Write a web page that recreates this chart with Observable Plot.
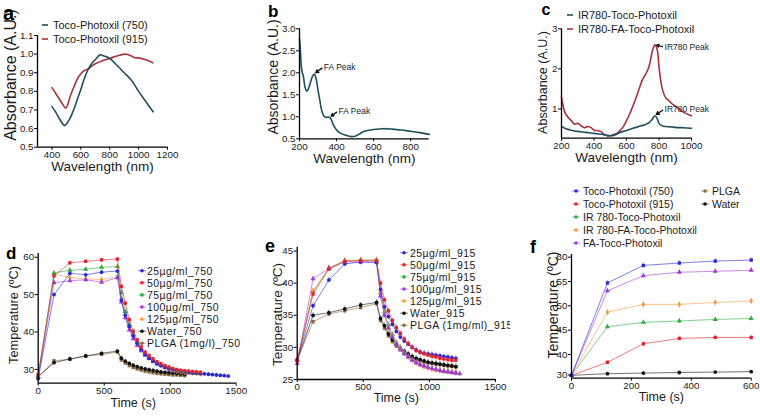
<!DOCTYPE html>
<html><head><meta charset="utf-8">
<script src="https://cdn.jsdelivr.net/npm/d3@7"></script>
<script src="https://cdn.jsdelivr.net/npm/@observablehq/plot@0.6"></script>
<style>
html,body{margin:0;padding:0;background:#fff;}
#root{position:relative;width:760px;height:416px;overflow:hidden;background:#fff;}
#root svg{position:absolute;left:0;top:0;}
</style></head><body><div id="root"></div>
<script>
// ---------- DATA ----------
// Panel a
const wlA750 = [400,425,450,475,487,500,525,550,575,600,625,652,675,700,733,760,800,850,900,950,1000,1050,1100];
const absA750 = [0.718,0.69,0.655,0.625,0.616,0.625,0.655,0.70,0.755,0.81,0.87,0.92,0.95,0.97,0.996,0.99,0.977,0.94,0.90,0.86,0.80,0.745,0.69];
const wlA915 = [400,425,450,475,495,510,525,550,575,600,625,652,675,700,750,800,850,900,925,950,975,1000,1050,1100];
const absA915 = [0.82,0.79,0.76,0.73,0.71,0.73,0.77,0.82,0.865,0.895,0.912,0.92,0.935,0.948,0.965,0.977,0.99,1.0,0.998,0.99,0.98,0.98,0.97,0.953];
const legendA = ["Toco-Photoxil (750)", "Toco-Photoxil (915)"];
// Panel b
const wlB = [200,205,210,215,220,230,240,250,260,270,280,290,300,310,320,330,340,350,360,370,380,400,420,450,480,500,520,550,600,650,700,750,800,850,900];
const absB = [2.77,2.5,2.13,2.0,1.94,1.67,1.58,1.66,1.79,1.92,1.97,1.86,1.6,1.37,1.14,1.03,0.99,0.99,0.99,0.95,0.84,0.7,0.63,0.58,0.55,0.56,0.6,0.67,0.71,0.73,0.72,0.7,0.67,0.64,0.6];
const annB = [{x:283, y:1.99, tx:326, ty:2.12, label:"FA Peak"}, {x:366, y:1.0, tx:405, ty:1.12, label:"FA Peak"}];
// Panel c
const wlC = [200,210,220,240,260,280,300,320,340,360,380,400,420,440,460,480,500,520,540,560,580,600,620,640,660,680,700,720,740,760,775,790,800,820,840,860,880,900,950,1000];
const absCfa = [1.29,1.08,0.92,0.79,0.71,0.62,0.64,0.58,0.53,0.56,0.54,0.47,0.46,0.44,0.37,0.33,0.33,0.36,0.39,0.46,0.56,0.71,0.88,1.08,1.29,1.53,1.75,1.88,2.08,2.46,2.6,2.46,2.04,1.5,1.29,1.21,1.13,1.07,0.92,0.83];
const absCtoco = [0.56,0.54,0.52,0.49,0.47,0.45,0.44,0.43,0.42,0.41,0.40,0.39,0.38,0.37,0.36,0.34,0.33,0.34,0.37,0.41,0.44,0.46,0.49,0.52,0.54,0.57,0.59,0.62,0.66,0.75,0.83,0.75,0.64,0.58,0.56,0.555,0.55,0.54,0.53,0.52];
const legendC = ["IR780-Toco-Photoxil", "IR780-FA-Toco-Photoxil"];
const annC = [{x:778, y:2.6, tx:828, ty:2.55, label:"IR780 Peak"}, {x:778, y:0.85, tx:828, ty:0.98, label:"IR780 Peak"}];
// Panel d
const tD = [0,120,240,360,480,600,630,660,690,720,750,780,810,840,870,900,930,960,990,1020,1050,1080,1110,1140,1170,1200,1230,1260,1290,1320,1350,1380,1410,1440];
const namesD = ["25µg/ml_750","50µg/ml_750","75µg/ml_750","100µg/ml_750","125µg/ml_750","Water_750","PLGA (1mg/l)_750"];
const d25 = [27.5,50,55.7,55.3,56,56.3,48.5,44.5,41.5,39,37,35.3,34,33,32.2,31.5,31,30.6,30.3,30,29.8,29.6,29.4,29.2,29.1,29,28.9,28.8,28.7,28.6,28.5,28.4,28.3,28.2];
const d50 = [28.5,55,58.5,58.9,59.3,59.5,52.2,47.7,43.3,40.2,37.9,36,34.6,33.7,32.8,32,31.5,31,30.6,30.2,29.9,29.7,29.6,29.5,29.4,29.3,29.2];
const d75 = [28,55.8,56.5,56.8,57.3,57.5,50.5,45.5,42,39.3,37.3,35.6,34.3,33.3,32.5,31.8,31.2,30.7,30.3,30,29.7,29.5,29.3,29.2,29.1,29,28.9];
const d100 = [28,53.2,53.7,54,53.3,54.5,48,43.8,40.5,38.2,36.4,35,33.8,32.9,32.1,31.5,31,30.5,30.1,29.8,29.6,29.4,29.2,29.1,29,28.9,28.8];
const d125 = [28.5,55.5,54.6,54.2,54,54.8,49,44.5,41.2,38.7,36.8,35.2,34,33,32.3,31.6,31.1,30.6,30.2,29.9,29.6,29.4,29.2,29.1,29,28.9,28.8];
const dWater = [28,31.8,32.8,33.6,34.3,34.9,33,32.2,31.6,31.1,30.7,30.4,30.1,29.9,29.7,29.5,29.3,29.2,29.1,29,28.9,28.8,28.7];
const dPLGA = [28,32.3,32.7,33.5,34,34.6,32.5,31.7,31,30.5,30.1,29.8,29.5,29.3,29.1,28.9,28.8,28.7,28.6,28.5,28.5,28.4,28.3];
// Panel e
const tE = [0,120,240,360,480,600,630,660,690,720,750,780,810,840,870,900,930,960,990,1020,1050,1080,1110,1140,1170,1200,1230];
const namesE = ["25µg/ml_915","50µg/ml_915","75µg/ml_915","100µg/ml_915","125µg/ml_915","Water_915","PLGA (1mg/ml)_915"];
const e25 = [28,36.5,40.5,43,43.3,43.2,39,36.3,34.8,33.6,32.5,31.6,31,30.5,30,29.6,29.3,29.1,29,28.9,28.8,28.7,28.6,28.5,28.4,28.3];
const e50 = [28,38.3,42.2,43.4,43.5,43.5,40,37.4,35.7,34.2,33.1,32.2,31.3,30.6,30,29.5,29.2,29,28.8,28.6,28.5,28.3,28.2,28.1,28,28];
const e75 = [28,38.7,42.3,43.5,43.6,43.6,38.5,35.5,33.5,32,30.8,30,29.2,28.6,28.1,27.7,27.4,27.1,26.9,26.7,26.5,26.4,26.3,26.2,26.1,26];
const e100 = [27.5,40.7,42.3,43.3,43.3,43.3,38,35,33,31.6,30.5,29.7,29,28.5,28,27.6,27.3,27.1,26.9,26.7,26.6,26.4,26.3,26.2,26.1,26,25.9];
const e125 = [27.8,38.8,42.4,43.5,43.5,43.6,38.2,35.2,33.2,31.8,30.7,29.8,29.1,28.5,28,27.6,27.3,27,26.8,26.6,26.5,26.4,26.3,26.3,26.2,26.2];
const eWater = [28,35,35.4,36,36.6,37,34.5,33.4,32.1,31.2,30.5,29.9,29.4,29,28.6,28.3,28.1,27.9,27.7,27.6,27.5,27.4,27.3,27.2,27.1,27];
const ePLGA = [28,34,35.2,35.7,36.2,36.8,34.2,33,31.8,30.9,30.2,29.6,29.1,28.7,28.4,28.1,27.9,27.7,27.6,27.5,27.4,27.3,27.2,27.1,27.1,27];
// Panel f (y axis is broken: 30–40 compressed)
const tF = [0,120,240,360,480,600];
const namesF = ["Toco-Photoxil (750)","Toco-Photoxil (915)","IR 780-Toco-Photoxil","IR 780-FA-Toco-Photoxil","FA-Toco-Photoxil","PLGA","Water"];
const f750 = [29.8,54.7,58.3,58.8,59.2,59.4];
const f915 = [29.8,36.2,42.2,43.3,43.5,43.5];
const fIR = [29.8,45.7,46.6,46.9,47.2,47.4];
const fIRFA = [29.8,48.7,50.3,50.3,50.7,51];
const fFA = [29.8,53.1,56.2,56.9,57.1,57.3];
const fWater = [29.8,30.6,30.9,31.2,31.4,31.6];
const fTicks = [30,40,45,50,55,60];

// ---------- STYLE ----------
const FONT = '"Liberation Sans", Arial, Helvetica, sans-serif';
const TEAL = "#1d4f5d", DRED = "#a8323d";
const COL = {blue:"#2a2ad2", red:"#e0242b", green:"#2fae3f", purple:"#a43ad6", orange:"#ef9d3f", black:"#111111", brown:"#8c6b3c"};
const colD = [COL.blue, COL.red, COL.green, COL.purple, COL.orange, COL.black, COL.brown];
const symD = ["circle","square","triangle","triangle","diamond","circle","square"];
const colF = [COL.blue, COL.red, COL.green, COL.orange, COL.purple, COL.brown, COL.black];

const root = document.getElementById("root");
const TICKFS = 9.8;
const intFmt = d3.format("d");

function frameMarks(cfg) {
  return [
    Plot.axisX({ticks: cfg.xt, tickSize: 3, tickPadding: 1, fontSize: TICKFS, label: null, tickFormat: cfg.xf, fill: "#1a1a1a"}),
    Plot.axisY({ticks: cfg.yt, tickSize: 3, tickPadding: 1, fontSize: TICKFS, label: null, tickFormat: cfg.yf, fill: "#1a1a1a"}),
    Plot.ruleX([cfg.xd[0]], {stroke: "#000", strokeWidth: 1.3}),
    Plot.ruleY([cfg.yd[0]], {stroke: "#000", strokeWidth: 1.3}),
    Plot.text([cfg.xl], {frameAnchor: "bottom", dy: cfg.xdy, dx: cfg.xdx || 0, fontSize: cfg.xfs, fill: "#1a1a1a"})
  ];
}
function panel(cfg, marks) {
  const p = Plot.plot({
    width: 760, height: 416,
    marginLeft: cfg.L, marginRight: 760 - cfg.R, marginTop: cfg.T, marginBottom: 416 - cfg.B,
    style: {background: "transparent", overflow: "visible", fontFamily: FONT},
    x: {domain: cfg.xd},
    y: {domain: cfg.yd},
    marks: [...marks, ...frameMarks(cfg)]
  });
  root.appendChild(p);
}
function curve(xs, ys, color) {
  return Plot.line(xs.map((x, i) => ({x, y: ys[i]})), {x: "x", y: "y", stroke: color, strokeWidth: 1.6, curve: "catmull-rom"});
}
function tempMarks(times, series, f = v => v) {
  const m = [];
  for (const s of series) {
    const rows = s.v.map((v, i) => ({t: times[i], v, e: s.e}));
    m.push(Plot.line(rows, {x: "t", y: d => f(d.v), stroke: s.c, strokeWidth: 0.8, strokeOpacity: 0.75}));
    m.push(Plot.ruleX(rows, {x: "t", y1: d => f(d.v - d.e), y2: d => f(d.v + d.e), stroke: s.c, strokeWidth: 0.8, strokeOpacity: 0.5}));
    m.push(Plot.dot(rows, {x: "t", y: d => f(d.v), fill: s.c, r: 1.9, symbol: s.sym}));
  }
  return m;
}

// a
panel({L: 37, R: 167, T: 35, B: 146.7, xd: [300, 1200], yd: [0.5, 1.1], xt: [400,600,800,1000,1200], xf: intFmt, yt: [0.5,0.6,0.7,0.8,0.9,1.0,1.1], yf: d3.format(".1f"),
  xl: "Wavelength (nm)", xdy: 24, xfs: 13.5},
  [curve(wlA915, absA915, DRED), curve(wlA750, absA750, TEAL)]);
// b
panel({L: 299, R: 428.7, T: 28.3, B: 138.3, xd: [200, 900], yd: [0.5, 3.0], xt: [200,400,600,800], xf: intFmt, yt: [0.5,1.0,1.5,2.0,2.5,3.0], yf: d3.format(".1f"),
  xl: "Wavelength (nm)", xdy: 24.5, xfs: 13.5},
  [curve(wlB, absB, TEAL),
   Plot.arrow(annB, {x1: "tx", y1: "ty", x2: "x", y2: "y", headLength: 4, strokeWidth: 1.3, insetStart: 1, insetEnd: 1, stroke: "#111"}),
   Plot.text(annB, {x: "tx", y: "ty", text: "label", textAnchor: "start", dx: 1, fontSize: 8.5, fill: "#1a1a1a"})]);
// c
panel({L: 561, R: 691, T: 28.3, B: 137.7, xd: [200, 1000], yd: [0.27, 3], xt: [200,400,600,800,1000], xf: intFmt, yt: [1,2,3], yf: intFmt,
  xl: "Wavelength (nm)", xdy: 24, xfs: 13.5},
  [curve(wlC, absCfa, DRED), curve(wlC, absCtoco, TEAL),
   Plot.arrow(annC, {x1: "tx", y1: "ty", x2: "x", y2: "y", headLength: 4, strokeWidth: 1.3, insetStart: 1, insetEnd: 1, stroke: "#111"}),
   Plot.text(annC, {x: "tx", y: "ty", text: "label", textAnchor: "start", dx: 1, fontSize: 8.5, fill: "#1a1a1a"})]);
// d
const seriesD = [d25, d50, d75, d100, d125, dWater, dPLGA].map((v, i) => ({v, c: colD[i], sym: symD[i], e: 0.5}));
panel({L: 37.7, R: 235.7, T: 253, B: 382.7, xd: [0, 1500], yd: [26.3, 61], xt: [0,500,1000,1500], xf: intFmt, yt: [30,40,50,60], yf: intFmt,
  xl: "Time (s)", xdy: 24, xdx: -4, xfs: 12.5},
  tempMarks(tD, [seriesD[6], seriesD[5], seriesD[4], seriesD[3], seriesD[2], seriesD[0], seriesD[1]]));
// e
const seriesE = [e25, e50, e75, e100, e125, eWater, ePLGA].map((v, i) => ({v, c: colD[i], sym: symD[i], e: 0.45}));
panel({L: 296.7, R: 495, T: 246.7, B: 379, xd: [0, 1500], yd: [25, 45.6], xt: [0,500,1000,1500], xf: intFmt, yt: [25,30,35,40,45], yf: intFmt,
  xl: "Time (s)", xdy: 22.5, xfs: 12.5},
  tempMarks(tE, [seriesE[6], seriesE[5], seriesE[2], seriesE[4], seriesE[3], seriesE[0], seriesE[1]]));
// f : broken y axis, 28.4–40 compressed below 40–60.55
const brokenY = d3.scaleLinear().domain([28.4, 40, 60.55]).range([0, 23.7, 123.7]);
const seriesF = [
  {v: fWater, c: COL.black, sym: "circle", e: 0.2},
  {v: f915, c: COL.red, sym: "square", e: 0.5},
  {v: fIR, c: COL.green, sym: "triangle", e: 0.5},
  {v: fIRFA, c: COL.orange, sym: "diamond", e: 0.5},
  {v: fFA, c: COL.purple, sym: "triangle", e: 0.5},
  {v: f750, c: COL.blue, sym: "square", e: 0.5}];
panel({L: 571, R: 750.7, T: 254, B: 377.7, xd: [0, 600], yd: [brokenY(28.4), brokenY(60.55)], xt: [0,200,400,600], xf: intFmt,
  yt: fTicks.map(brokenY), yf: v => intFmt(Math.round(brokenY.invert(v))),
  xl: "Time (s)", xdy: 22.5, xfs: 12.5},
  tempMarks(tF, seriesF, brokenY));

// ---------- overlay: panel letters, y titles and legends ----------
const ov = d3.select("#root").append("svg").attr("width", 760).attr("height", 416)
  .style("font-family", FONT).style("overflow", "visible");
const yTitles = [["Absorbance (A.U.)", 10.5, 75, 16], ["Absorbance (A.U.)", 273, 77, 14], ["Absorbance (A.U.)", 543, 82.5, 12.5],
  ["Temperature (ºC)", 13, 315, 12.8], ["Temperature (ºC)", 277, 314.5, 13.5], ["Temperature (ºC)", 553, 305, 14]];
for (const [t, x, y, fs] of yTitles) ov.append("text").attr("transform", `translate(${x},${y}) rotate(-90)`)
  .attr("text-anchor", "middle").attr("dominant-baseline", "central").attr("font-size", fs).attr("fill", "#1a1a1a").text(t);
const letters = [["a", 3, 20, 20], ["b", 268, 16.7, 17], ["c", 541.5, 15, 16], ["d", 6, 259, 17], ["e", 265, 252, 18], ["f", 530, 253, 18]];
for (const [t, x, y, fs] of letters) ov.append("text").attr("x", x).attr("y", y).attr("font-size", fs).attr("font-weight", "bold").attr("fill", "#000").text(t);

function lineLegend(names, colors, x0, y0, dy, fs) {
  names.forEach((n, i) => {
    const y = y0 + i * dy;
    ov.append("line").attr("x1", x0).attr("x2", x0 + 6).attr("y1", y).attr("y2", y).attr("stroke", colors[i]).attr("stroke-width", 1.6);
    ov.append("text").attr("x", x0 + 11).attr("y", y).attr("dominant-baseline", "central").attr("font-size", fs).attr("fill", "#1a1a1a").text(n);
  });
}
function dotLegend(g, names, colors, xc, y0, dy, fs, tx, ls = 0) {
  names.forEach((n, i) => {
    const y = y0 + i * dy;
    g.append("line").attr("x1", xc - 4).attr("x2", xc + 4).attr("y1", y).attr("y2", y).attr("stroke", colors[i]).attr("stroke-width", 0.8).attr("stroke-opacity", 0.7);
    g.append("circle").attr("cx", xc).attr("cy", y).attr("r", 1.8).attr("fill", colors[i]);
    g.append("text").attr("x", xc + tx).attr("y", y).attr("dominant-baseline", "central").attr("font-size", fs)
      .attr("letter-spacing", ls).attr("fill", "#1a1a1a").text(n);
  });
}
lineLegend(legendA, [TEAL, DRED], 42, 25, 14, 11);
lineLegend(legendC, [TEAL, DRED], 567, 15, 14, 11);
dotLegend(ov, namesD, colD, 142, 270.7, 12.1, 10.5, 5, 0.45);
ov.append("clipPath").attr("id", "clipE").append("rect").attr("x", 0).attr("y", 0).attr("width", 510).attr("height", 416);
dotLegend(ov.append("g").attr("clip-path", "url(#clipE)"), namesE, colD, 404, 252.7, 12.1, 10.5, 6, 0.45);
dotLegend(ov, namesF.slice(0, 5), colF.slice(0, 5), 576, 191, 13, 10.5, 7);
dotLegend(ov, namesF.slice(5), colF.slice(5), 705, 191, 13, 10.5, 7);
</script></body></html>
